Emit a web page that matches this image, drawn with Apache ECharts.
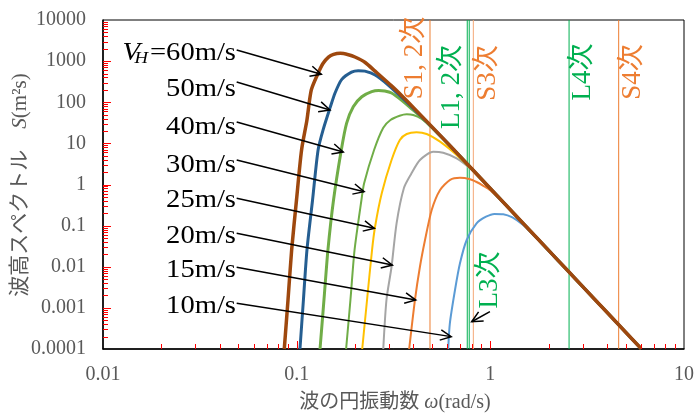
<!DOCTYPE html>
<html lang="ja">
<head>
<meta charset="UTF-8">
<title>wave spectrum</title>
<script src="https://cdn.jsdelivr.net/npm/echarts@6/dist/echarts.min.js"></script>
<style>
  html, body { margin: 0; padding: 0; background: #fff; }
  #main { width: 699px; height: 414px; }
</style>
</head>
<body>
<div id="main"></div>
<script>
// tick labels
var xTickLabels = ['0.01', '0.1', '1', '10'];
var yTickLabels = ['0.0001', '0.001', '0.01', '0.1', '1', '10', '100', '1000', '10000'];

// wind speeds and colours
var speedNames = ['10m/s', '15m/s', '20m/s', '25m/s', '30m/s', '40m/s', '50m/s', '60m/s'];
var speedColors = ['#5B9BD5', '#ED7D31', '#A5A5A5', '#FFC000', '#70AD47', '#70AD47', '#255E91', '#9E480E'];
var speedWidths = [2, 2, 2, 2, 2, 3, 3, 3.5];

// [omega, S]
var v10 = [[0.606, 0.0001], [0.618, 0.00042], [0.657, 0.00272], [0.697, 0.0121], [0.755, 0.0447], [0.849, 0.114], [0.95, 0.165], [1.05, 0.193], [1.166, 0.19], [1.3, 0.158], [1.479, 0.103], [1.65, 0.062], [1.803, 0.041]];
var v15 = [[0.381, 0.0001], [0.408, 0.00155], [0.433, 0.01], [0.46, 0.0447], [0.498, 0.24], [0.55, 0.735], [0.62, 1.3], [0.697, 1.46], [0.78, 1.36], [0.849, 1.15], [0.92, 0.93], [1, 0.72], [1.2, 0.31]];
var v20 = [[0.28, 0.0001], [0.291, 0.0016], [0.309, 0.01], [0.328, 0.114], [0.358, 0.82], [0.39, 1.8], [0.433, 3.94], [0.507, 6.28], [0.571, 5.93], [0.67, 4.34], [0.785, 2.48], [0.9, 1.3], [1, 0.77], [1.2, 0.315]];
var v25 = [[0.218, 0.0001], [0.231, 0.0016], [0.245, 0.0255], [0.254, 0.094], [0.275, 0.61], [0.309, 3.94], [0.341, 12.1], [0.37, 16.9], [0.416, 18.6], [0.469, 16.9], [0.55, 11], [0.643, 6.2], [0.7, 4.3], [0.8, 2.3], [1, 0.78]];
var v30 = [[0.18, 0.0001], [0.1896, 0.0016], [0.199, 0.0255], [0.216, 0.42], [0.223, 1.07], [0.251, 6.9], [0.28, 24], [0.305, 37], [0.34, 47], [0.37, 51], [0.4, 49], [0.44, 40], [0.5, 24.5], [0.6, 10.1]];
var v40 = [[0.132, 0.0001], [0.1384, 0.0016], [0.145, 0.0255], [0.155, 0.42], [0.17, 6.9], [0.181, 30.8], [0.196, 78], [0.217, 136], [0.244, 181], [0.265, 193], [0.285, 188], [0.309, 168], [0.35, 110], [0.4, 64], [0.45, 39], [0.5, 24], [0.6, 10.1]];
var v50 = [[0.104, 0.0001], [0.1084, 0.0016], [0.113, 0.0255], [0.1208, 0.42], [0.129, 6.9], [0.1368, 21], [0.149, 75], [0.158, 170], [0.171, 360], [0.192, 540], [0.208, 585], [0.225, 570], [0.254, 460], [0.297, 263], [0.35, 129], [0.4, 71], [0.45, 40.9], [0.5, 24.6]];
var v60 = [[0.0863, 0.0001], [0.0902, 0.00155], [0.0942, 0.0255], [0.0998, 0.42], [0.106, 6.9], [0.113, 37], [0.119, 199], [0.129, 506], [0.137, 885], [0.146, 1250], [0.155, 1460], [0.168, 1550], [0.185, 1430], [0.2, 1260], [0.225, 940], [0.254, 570], [0.309, 250], [0.35, 142], [0.4, 75], [0.5, 25.2]];
// common high-frequency tail
var tail = [[0.6, 10.29], [0.7, 4.76], [0.8, 2.44], [1, 0.8], [1.2, 0.3215], [1.5, 0.1053], [2, 0.025], [2.5, 0.00819], [3, 0.00329], [4, 0.000781], [5, 0.000256], [6, 0.000103]];

var curves = [v10, v15, v20, v25, v30, v40, v50, v60];

// natural frequencies (rad/s): [omega, colour]
var modeLines = [[0.488, '#ED7D31'], [0.76, '#00B050'], [0.778, '#00B050'], [0.817, '#F4A876'], [2.55, '#00B050'], [4.6, '#ED7D31']];

// arrows: from label to curve
var arrowFrom = [[0.049, 1865], [0.049, 311], [0.049, 33.1], [0.049, 3.94], [0.049, 0.462], [0.049, 0.0651], [0.049, 0.0097], [0.049, 0.00129], [0.995, 0.00081]];
var arrowTo = [[0.134, 480], [0.1486, 65], [0.174, 6.2], [0.223, 0.67], [0.252, 0.086], [0.312, 0.011], [0.412, 0.00155], [0.628, 0.0002], [0.801, 0.00046]];

var serif = '"Liberation Serif", "Noto Sans CJK JP", serif';
var orange = '#ED7D31';
var green = '#00B050';
var grey = '#595959';
var tickColor = '#ff0000';

// ticks per decade: [value, length]
var xTicks = [], yTicks = [];
[0.01, 0.1, 1].forEach(function (d) {
    for (var k = 2; k <= 9; k++) xTicks.push([d * k, 5]);
});
xTicks.push([0.1, 8], [1, 8]);
[0.0001, 0.001, 0.01, 0.1, 1, 10, 100, 1000].forEach(function (d) {
    for (var k = 2; k <= 9; k++) yTicks.push([d * k, 5]);
});
[0.001, 0.01, 0.1, 1, 10, 100, 1000].forEach(function (d) { yTicks.push([d, 8]); });

var myChart = echarts.init(document.getElementById('main'));

var series = [];

// vertical mode lines
series.push({
    type: 'custom',
    silent: true,
    z: 1,
    data: modeLines.map(function (m) { return [m[0], 1]; }),
    encode: { x: 0, y: 1 },
    renderItem: function (params, api) {
        var w = api.value(0);
        var top = api.coord([w, 10000]);
        var bot = api.coord([w, 0.0001]);
        return {
            type: 'line',
            shape: { x1: top[0], y1: top[1], x2: bot[0], y2: bot[1] },
            style: { stroke: modeLines[params.dataIndex][1], lineWidth: 1 }
        };
    }
});

curves.forEach(function (c, i) {
    var last = c[c.length - 1][0];
    var data = c.concat(tail.filter(function (p) { return p[0] > last; }));
    series.push({
        name: speedNames[i],
        type: 'line',
        data: data,
        showSymbol: false,
        smooth: 0.25,
        z: 2 + i,
        lineStyle: { color: speedColors[i], width: speedWidths[i] },
        itemStyle: { color: speedColors[i] }
    });
});

// x ticks: each item sits on the bottom edge at its own omega
series.push({
    type: 'custom',
    silent: true,
    z: 20,
    clip: false,
    data: xTicks.map(function (t) { return [t[0], 0.0001]; }),
    encode: { x: 0, y: 1 },
    renderItem: function (params, api) {
        var p = api.coord([api.value(0), api.value(1)]);
        var x = Math.round(p[0]) + 0.5;
        var len = xTicks[params.dataIndex][1];
        return { type: 'line', shape: { x1: x, y1: p[1], x2: x, y2: p[1] - len }, style: { stroke: tickColor, lineWidth: 1 } };
    }
});
// y ticks: each item sits on the left edge at its own S
series.push({
    type: 'custom',
    silent: true,
    z: 20,
    clip: false,
    data: yTicks.map(function (t) { return [0.0101, t[0]]; }),
    encode: { x: 0, y: 1 },
    renderItem: function (params, api) {
        var p = api.coord([api.value(0), api.value(1)]);
        var y = Math.round(p[1]) + 0.5;
        var x = Math.round(p[0]) - 1;
        var len = yTicks[params.dataIndex][1];
        return { type: 'line', shape: { x1: x, y1: y, x2: x + len, y2: y }, style: { stroke: tickColor, lineWidth: 1 } };
    }
});

// arrows
series.push({
    type: 'custom',
    silent: true,
    z: 30,
    clip: false,
    data: arrowFrom.map(function (f, i) { return [f[0], f[1], arrowTo[i][0], arrowTo[i][1]]; }),
    encode: { x: [0, 2], y: [1, 3] },
    renderItem: function (params, api) {
        var p1 = api.coord([api.value(0), api.value(1)]);
        var p2 = api.coord([api.value(2), api.value(3)]);
        var a = Math.atan2(p2[1] - p1[1], p2[0] - p1[0]);
        var L = 12, t = 0.45;
        var h1 = [p2[0] - L * Math.cos(a - t), p2[1] - L * Math.sin(a - t)];
        var h2 = [p2[0] - L * Math.cos(a + t), p2[1] - L * Math.sin(a + t)];
        return {
            type: 'group',
            children: [
                { type: 'line', shape: { x1: p1[0], y1: p1[1], x2: p2[0], y2: p2[1] }, style: { stroke: '#000', lineWidth: 1.5 } },
                { type: 'polyline', shape: { points: [h1, p2, h2] }, style: { stroke: '#000', lineWidth: 1.5, fill: null } }
            ]
        };
    }
});

// text annotations
var labelY = [306, 270, 236, 200, 165, 127, 89];
var graphics = [];
labelY.forEach(function (y, i) {
    graphics.push({
        type: 'text', x: 236, y: y, scaleX: 1.1, z: 40,
        style: { text: speedNames[i], fill: '#000', fontSize: 26, fontFamily: serif, align: 'right', verticalAlign: 'middle' }
    });
});
graphics.push({ type: 'text', x: 236, y: 53, scaleX: 1.1, z: 40,
    style: { text: '=60m/s', fill: '#000', fontSize: 26, fontFamily: serif, align: 'right', verticalAlign: 'middle' } });
graphics.push({ type: 'text', x: 148, y: 59, scaleX: 1.1, z: 40,
    style: { text: 'H', fill: '#000', fontSize: 17, fontStyle: 'italic', fontFamily: serif, align: 'right', verticalAlign: 'middle' } });
graphics.push({ type: 'text', x: 140, y: 53, scaleX: 1.1, z: 40,
    style: { text: 'V', fill: '#000', fontSize: 26, fontStyle: 'italic', fontFamily: serif, align: 'right', verticalAlign: 'middle' } });

var modeTexts = [
    ['S1, 2次', 415, 58, orange],
    ['L1, 2次', 452, 87, green],
    ['S3次', 488, 73, orange],
    ['L4次', 583, 72, green],
    ['S4次', 633, 72, orange],
    ['L3次', 490, 280, green]
];
modeTexts.forEach(function (m) {
    graphics.push({
        type: 'text', x: m[1], y: m[2], rotation: Math.PI / 2, z: 40,
        style: { text: m[0], fill: m[3], fontSize: 27, fontFamily: serif, align: 'center', verticalAlign: 'middle' }
    });
});

// axis titles
graphics.push({
    type: 'text', x: 395, y: 403, z: 40,
    style: {
        text: '{a|波の円振動数 }{i|ω}{a|(rad/s)}', align: 'center', verticalAlign: 'middle',
        rich: {
            a: { fontSize: 20, fontFamily: serif, fill: grey },
            i: { fontSize: 20, fontFamily: serif, fontStyle: 'italic', fill: grey }
        }
    }
});
graphics.push({
    type: 'text', x: 20, y: 185, rotation: Math.PI / 2, z: 40,
    style: {
        text: '{a|波高スペクトル　}{i|S}{a|(m²s)}', align: 'center', verticalAlign: 'middle',
        rich: {
            a: { fontSize: 21, fontFamily: serif, fill: grey },
            i: { fontSize: 21, fontFamily: serif, fontStyle: 'italic', fill: grey }
        }
    }
});

myChart.setOption({
    animation: false,
    backgroundColor: '#fff',
    grid: { left: 103, right: 15, top: 20, bottom: 65, show: true, borderColor: '#000', borderWidth: 1 },
    xAxis: {
        type: 'log', logBase: 10, min: 0.01, max: 10,
        axisLine: { lineStyle: { color: '#000', width: 1.5 } },
        axisTick: { show: false },
        splitLine: { show: false },
        axisLabel: {
            color: grey, fontSize: 20, fontFamily: serif, margin: 16,
            formatter: function (v, idx) { return xTickLabels[idx]; }
        }
    },
    yAxis: {
        type: 'log', logBase: 10, min: 0.0001, max: 10000,
        axisLine: { show: true, lineStyle: { color: '#000', width: 1.5 } },
        axisTick: { show: false },
        splitLine: { show: false },
        axisLabel: {
            color: grey, fontSize: 20, fontFamily: serif, margin: 17,
            formatter: function (v, idx) { return yTickLabels[idx]; }
        }
    },
    graphic: graphics,
    series: series
});
</script>
</body>
</html>
